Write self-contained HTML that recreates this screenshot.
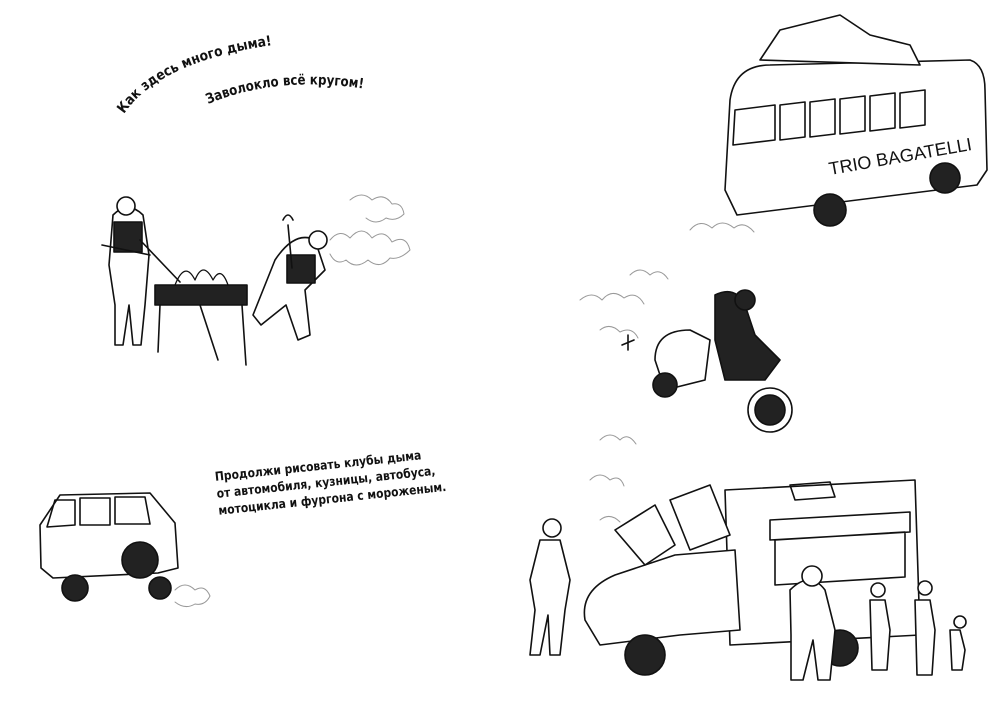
<!DOCTYPE html>
<html><head><meta charset="utf-8"><style>
html,body{margin:0;padding:0;background:#fff;}
body{width:1000px;height:723px;position:relative;overflow:hidden;font-family:"DejaVu Sans","Liberation Sans",sans-serif;}
svg{position:absolute;left:0;top:0;}
.p{position:absolute;left:214px;top:468px;font-size:12.5px;font-weight:bold;line-height:17px;transform:rotate(-6deg) scaleX(0.86);transform-origin:0 0;color:#111;white-space:nowrap;}
</style></head><body>
<svg width="1000" height="723" viewBox="0 0 1000 723" fill="none" stroke="#111" stroke-width="1.6" stroke-linejoin="round" stroke-linecap="round">
<defs>
<path id="c1" d="M124,114 Q160,60 280,44"/>
<path id="c2" d="M208,104 Q280,74 372,90"/>
</defs>
<text font-family="DejaVu Sans, sans-serif" font-weight="bold" font-size="14" fill="#111" stroke="none"><textPath href="#c1" textLength="168" lengthAdjust="spacingAndGlyphs">Как здесь много дыма!</textPath></text>
<text font-family="DejaVu Sans, sans-serif" font-weight="bold" font-size="14" fill="#111" stroke="none"><textPath href="#c2" textLength="158" lengthAdjust="spacingAndGlyphs">Заволокло всё кругом!</textPath></text>

<!-- forge scene -->
<g>
<rect x="155" y="285" width="92" height="20" fill="#222"/>
<path d="M160 305 L158 352 M242 305 L246 365 M200 305 L218 360"/>
<path d="M175 285 q10 -25 20 -5 q8 -20 18 0 q8 -15 15 5" stroke-width="1.3"/>
<path d="M113 215 q15 -15 30 0 l6 40 l-4 50 l-4 40 l-8 0 l-4 -40 l-6 40 l-8 0 l0 -40 l-6 -40 z" fill="#fff"/>
<rect x="114" y="222" width="28" height="30" fill="#222"/>
<circle cx="126" cy="206" r="9" fill="#fff"/>
<path d="M140 240 L180 282 M102 245 L150 255"/>
<path d="M275 260 q20 -30 40 -20 l10 30 l-20 20 l5 45 l-12 5 l-12 -35 l-25 20 l-8 -10 z" fill="#fff"/>
<rect x="287" y="255" width="28" height="28" fill="#222"/>
<circle cx="318" cy="240" r="9" fill="#fff"/>
<path d="M283 220 q5 -10 10 0 M288 225 L292 268"/>
<path d="M330 240 q10 -12 20 -2 q12 -14 22 0 q12 -10 20 4 q14 -8 18 8 q-10 10 -20 8 q-10 12 -22 2 q-12 10 -22 0 q-10 6 -16 -6 M350 200 q12 -10 22 0 q12 -8 20 4 q10 -2 12 10 q-8 8 -18 4 q-10 8 -20 0" stroke="#999" stroke-width="1"/>
</g>

<!-- jeep -->
<g>
<path d="M40 525 l20 -30 l90 -2 l25 30 l3 45 l-20 5 l-105 5 l-12 -10 z" fill="#fff"/>
<path d="M55 500 l20 0 l0 25 l-28 2 z M80 498 l30 0 l0 27 l-30 0 z M115 497 l30 0 l5 27 l-35 0 z"/>
<circle cx="140" cy="560" r="18" fill="#222"/>
<circle cx="75" cy="588" r="13" fill="#222"/>
<circle cx="160" cy="588" r="11" fill="#222"/>
<path d="M175 590 q10 -10 20 0 q10 -6 15 6 q-5 10 -15 8 q-10 6 -20 -2" stroke="#999" stroke-width="1"/>
</g>

<!-- bus -->
<g>
<path d="M730 100 q5 -35 40 -35 l200 -5 q15 5 15 30 l2 80 l-10 15 l-240 30 l-12 -25 z" fill="#fff"/>
<path d="M760 60 l20 -30 l60 -15 l30 20 l40 10 l10 20 z" fill="#fff"/>
<path d="M735 110 l40 -5 l0 35 l-42 5 z M780 105 l25 -3 l0 35 l-25 3 z M810 102 l25 -3 l0 35 l-25 3 z M840 99 l25 -3 l0 35 l-25 3 z M870 96 l25 -3 l0 35 l-25 3 z M900 93 l25 -3 l0 35 l-25 3 z"/>
<text x="830" y="175" font-family="Liberation Sans,sans-serif" font-size="18" fill="#111" stroke="none" transform="rotate(-10 830 175)">TRIO BAGATELLI</text>
<circle cx="830" cy="210" r="16" fill="#222"/>
<circle cx="945" cy="178" r="15" fill="#222"/>
<path d="M690 230 q10 -12 22 -2 q10 -10 22 0 q10 -8 20 4" stroke="#999" stroke-width="1"/>
</g>

<!-- motorcycle -->
<g>
<path d="M655 360 q0 -30 35 -30 l20 10 l-5 40 l-40 10 z" fill="#fff"/>
<path d="M715 295 q20 -10 30 10 l10 30 l25 25 l-15 20 l-40 0 l-10 -40 z" fill="#222"/>
<circle cx="745" cy="300" r="10" fill="#222"/>
<circle cx="770" cy="410" r="22" fill="#fff"/>
<circle cx="770" cy="410" r="15" fill="#222"/>
<circle cx="665" cy="385" r="12" fill="#222"/>
<path d="M580 300 q12 -10 22 0 q10 -12 22 -2 q12 -8 20 6 M600 330 q10 -8 20 2 q12 -6 18 6 M630 275 q10 -10 20 0 q10 -8 18 4" stroke="#999" stroke-width="1"/>
<path d="M622 345 l12 -5 M628 335 l0 15"/>
</g>

<!-- ice cream truck -->
<g>
<path d="M725 490 l190 -10 l5 155 l-190 10 z" fill="#fff"/>
<path d="M790 485 l40 -3 l5 15 l-40 3 z"/>
<path d="M770 520 l140 -8 l0 20 l-140 8 z M775 540 l130 -8 l0 45 l-130 8 z"/>
<path d="M585 620 q-5 -30 30 -45 l60 -20 l60 -5 l5 80 l-60 5 l-80 10 z" fill="#fff"/>
<path d="M615 530 l40 -25 l20 40 l-30 20 z M670 500 l40 -15 l20 50 l-40 15 z" fill="#fff"/>
<circle cx="645" cy="655" r="20" fill="#222"/>
<circle cx="840" cy="648" r="18" fill="#222"/>
<path d="M540 540 l20 0 l10 40 l-5 30 l-5 45 l-10 0 l-2 -40 l-8 40 l-10 0 l5 -45 l-5 -30 z" fill="#fff"/>
<circle cx="552" cy="528" r="9" fill="#fff"/>
<path d="M790 590 q20 -20 35 0 l10 40 l-5 50 l-12 0 l-5 -40 l-10 40 l-12 0 l0 -45 z" fill="#fff"/>
<circle cx="812" cy="576" r="10" fill="#fff"/>
<path d="M870 600 l15 0 l5 30 l-3 40 l-15 0 z M915 600 l15 0 l5 30 l-3 45 l-15 0 z M950 630 l10 0 l5 20 l-3 20 l-10 0 z" fill="#fff"/>
<circle cx="878" cy="590" r="7" fill="#fff"/><circle cx="925" cy="588" r="7" fill="#fff"/><circle cx="960" cy="622" r="6" fill="#fff"/>
<path d="M600 440 q10 -10 20 0 q8 -8 16 4 M590 480 q10 -10 20 0 q10 -6 14 6 M600 520 q10 -8 20 2" stroke="#999" stroke-width="1"/>
</g>
</svg>
<div class="p">Продолжи рисовать клубы дыма<br>от автомобиля, кузницы, автобуса,<br>мотоцикла и фургона с мороженым.</div>
</body></html>
